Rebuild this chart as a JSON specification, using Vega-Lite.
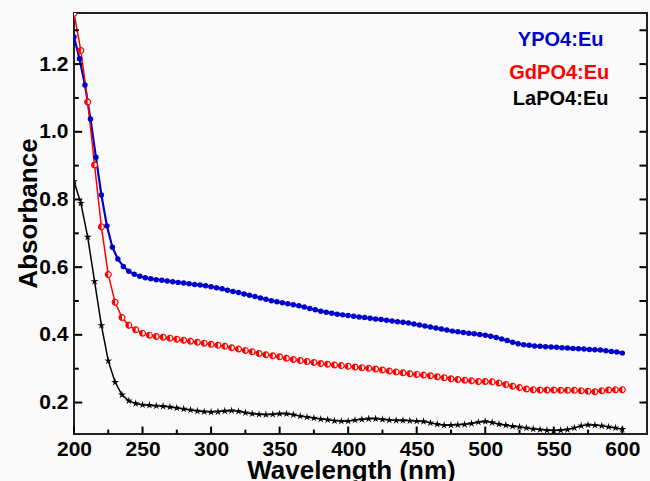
{
"$schema": "https://vega.github.io/schema/vega-lite/v6.json",
"width": 573, "height": 421,
"autosize": {"type": "none"},
"padding": {"left": 74, "top": 13, "right": 3, "bottom": 47},
"background": "#fafafa",
"config": {"view": {"stroke": "#222222", "strokeWidth": 2}, "font": "Liberation Sans"},
"datasets": {
"xmaj": [{"v":200},{"v":250},{"v":300},{"v":350},{"v":400},{"v":450},{"v":500},{"v":550},{"v":600}],
"xmin": [{"v":225},{"v":275},{"v":325},{"v":375},{"v":425},{"v":475},{"v":525},{"v":575}],
"ymaj": [{"v":0.2},{"v":0.4},{"v":0.6},{"v":0.8},{"v":1.0},{"v":1.2}],
"ymin": [{"v":0.3},{"v":0.5},{"v":0.7},{"v":0.9},{"v":1.1},{"v":1.3}],
"yall": [{"v":0.2},{"v":0.3},{"v":0.4},{"v":0.5},{"v":0.6},{"v":0.7},{"v":0.8},{"v":0.9},{"v":1.0},{"v":1.1},{"v":1.2},{"v":1.3}],
"one": [{"n":1}],
"abs": [
{"s":"YPO4:Eu","wl":200,"a":1.280},{"s":"YPO4:Eu","wl":204,"a":1.216},{"s":"YPO4:Eu","wl":208,"a":1.138},{"s":"YPO4:Eu","wl":212,"a":1.038},{"s":"YPO4:Eu","wl":216,"a":0.925},{"s":"YPO4:Eu","wl":220,"a":0.813},{"s":"YPO4:Eu","wl":224,"a":0.722},{"s":"YPO4:Eu","wl":228,"a":0.659},{"s":"YPO4:Eu","wl":232,"a":0.624},{"s":"YPO4:Eu","wl":236,"a":0.602},{"s":"YPO4:Eu","wl":240,"a":0.588},{"s":"YPO4:Eu","wl":244,"a":0.579},{"s":"YPO4:Eu","wl":248,"a":0.573},{"s":"YPO4:Eu","wl":252,"a":0.569},{"s":"YPO4:Eu","wl":256,"a":0.566},{"s":"YPO4:Eu","wl":260,"a":0.563},{"s":"YPO4:Eu","wl":264,"a":0.561},{"s":"YPO4:Eu","wl":268,"a":0.559},{"s":"YPO4:Eu","wl":272,"a":0.557},{"s":"YPO4:Eu","wl":276,"a":0.555},{"s":"YPO4:Eu","wl":280,"a":0.553},{"s":"YPO4:Eu","wl":284,"a":0.551},{"s":"YPO4:Eu","wl":288,"a":0.549},{"s":"YPO4:Eu","wl":292,"a":0.547},{"s":"YPO4:Eu","wl":296,"a":0.545},{"s":"YPO4:Eu","wl":300,"a":0.542},{"s":"YPO4:Eu","wl":304,"a":0.539},{"s":"YPO4:Eu","wl":308,"a":0.536},{"s":"YPO4:Eu","wl":312,"a":0.532},{"s":"YPO4:Eu","wl":316,"a":0.528},{"s":"YPO4:Eu","wl":320,"a":0.525},{"s":"YPO4:Eu","wl":324,"a":0.521},{"s":"YPO4:Eu","wl":328,"a":0.517},{"s":"YPO4:Eu","wl":332,"a":0.513},{"s":"YPO4:Eu","wl":336,"a":0.509},{"s":"YPO4:Eu","wl":340,"a":0.505},{"s":"YPO4:Eu","wl":344,"a":0.501},{"s":"YPO4:Eu","wl":348,"a":0.498},{"s":"YPO4:Eu","wl":352,"a":0.495},{"s":"YPO4:Eu","wl":356,"a":0.492},{"s":"YPO4:Eu","wl":360,"a":0.489},{"s":"YPO4:Eu","wl":364,"a":0.486},{"s":"YPO4:Eu","wl":368,"a":0.482},{"s":"YPO4:Eu","wl":372,"a":0.478},{"s":"YPO4:Eu","wl":376,"a":0.474},{"s":"YPO4:Eu","wl":380,"a":0.470},{"s":"YPO4:Eu","wl":384,"a":0.467},{"s":"YPO4:Eu","wl":388,"a":0.464},{"s":"YPO4:Eu","wl":392,"a":0.461},{"s":"YPO4:Eu","wl":396,"a":0.459},{"s":"YPO4:Eu","wl":400,"a":0.457},{"s":"YPO4:Eu","wl":404,"a":0.455},{"s":"YPO4:Eu","wl":408,"a":0.453},{"s":"YPO4:Eu","wl":412,"a":0.451},{"s":"YPO4:Eu","wl":416,"a":0.449},{"s":"YPO4:Eu","wl":420,"a":0.447},{"s":"YPO4:Eu","wl":424,"a":0.445},{"s":"YPO4:Eu","wl":428,"a":0.443},{"s":"YPO4:Eu","wl":432,"a":0.441},{"s":"YPO4:Eu","wl":436,"a":0.439},{"s":"YPO4:Eu","wl":440,"a":0.437},{"s":"YPO4:Eu","wl":444,"a":0.435},{"s":"YPO4:Eu","wl":448,"a":0.432},{"s":"YPO4:Eu","wl":452,"a":0.429},{"s":"YPO4:Eu","wl":456,"a":0.426},{"s":"YPO4:Eu","wl":460,"a":0.423},{"s":"YPO4:Eu","wl":464,"a":0.420},{"s":"YPO4:Eu","wl":468,"a":0.417},{"s":"YPO4:Eu","wl":472,"a":0.414},{"s":"YPO4:Eu","wl":476,"a":0.411},{"s":"YPO4:Eu","wl":480,"a":0.409},{"s":"YPO4:Eu","wl":484,"a":0.407},{"s":"YPO4:Eu","wl":488,"a":0.405},{"s":"YPO4:Eu","wl":492,"a":0.403},{"s":"YPO4:Eu","wl":496,"a":0.401},{"s":"YPO4:Eu","wl":500,"a":0.399},{"s":"YPO4:Eu","wl":504,"a":0.396},{"s":"YPO4:Eu","wl":508,"a":0.392},{"s":"YPO4:Eu","wl":512,"a":0.388},{"s":"YPO4:Eu","wl":516,"a":0.383},{"s":"YPO4:Eu","wl":520,"a":0.378},{"s":"YPO4:Eu","wl":524,"a":0.374},{"s":"YPO4:Eu","wl":528,"a":0.371},{"s":"YPO4:Eu","wl":532,"a":0.369},{"s":"YPO4:Eu","wl":536,"a":0.367},{"s":"YPO4:Eu","wl":540,"a":0.366},{"s":"YPO4:Eu","wl":544,"a":0.365},{"s":"YPO4:Eu","wl":548,"a":0.364},{"s":"YPO4:Eu","wl":552,"a":0.363},{"s":"YPO4:Eu","wl":556,"a":0.362},{"s":"YPO4:Eu","wl":560,"a":0.361},{"s":"YPO4:Eu","wl":564,"a":0.360},{"s":"YPO4:Eu","wl":568,"a":0.359},{"s":"YPO4:Eu","wl":572,"a":0.358},{"s":"YPO4:Eu","wl":576,"a":0.357},{"s":"YPO4:Eu","wl":580,"a":0.356},{"s":"YPO4:Eu","wl":584,"a":0.355},{"s":"YPO4:Eu","wl":588,"a":0.353},{"s":"YPO4:Eu","wl":592,"a":0.351},{"s":"YPO4:Eu","wl":596,"a":0.349},{"s":"YPO4:Eu","wl":600,"a":0.346},
{"s":"GdPO4:Eu","wl":200,"a":1.35},{"s":"GdPO4:Eu","wl":205,"a":1.24},{"s":"GdPO4:Eu","wl":210,"a":1.088},{"s":"GdPO4:Eu","wl":215,"a":0.902},{"s":"GdPO4:Eu","wl":220,"a":0.719},{"s":"GdPO4:Eu","wl":225,"a":0.578},{"s":"GdPO4:Eu","wl":230,"a":0.496},{"s":"GdPO4:Eu","wl":235,"a":0.451},{"s":"GdPO4:Eu","wl":240,"a":0.428},{"s":"GdPO4:Eu","wl":245,"a":0.415},{"s":"GdPO4:Eu","wl":250,"a":0.405},{"s":"GdPO4:Eu","wl":255,"a":0.399},{"s":"GdPO4:Eu","wl":260,"a":0.395},{"s":"GdPO4:Eu","wl":265,"a":0.393},{"s":"GdPO4:Eu","wl":270,"a":0.390},{"s":"GdPO4:Eu","wl":275,"a":0.387},{"s":"GdPO4:Eu","wl":280,"a":0.384},{"s":"GdPO4:Eu","wl":285,"a":0.381},{"s":"GdPO4:Eu","wl":290,"a":0.378},{"s":"GdPO4:Eu","wl":295,"a":0.375},{"s":"GdPO4:Eu","wl":300,"a":0.372},{"s":"GdPO4:Eu","wl":305,"a":0.369},{"s":"GdPO4:Eu","wl":310,"a":0.366},{"s":"GdPO4:Eu","wl":315,"a":0.362},{"s":"GdPO4:Eu","wl":320,"a":0.358},{"s":"GdPO4:Eu","wl":325,"a":0.354},{"s":"GdPO4:Eu","wl":330,"a":0.350},{"s":"GdPO4:Eu","wl":335,"a":0.345},{"s":"GdPO4:Eu","wl":340,"a":0.341},{"s":"GdPO4:Eu","wl":345,"a":0.338},{"s":"GdPO4:Eu","wl":350,"a":0.335},{"s":"GdPO4:Eu","wl":355,"a":0.331},{"s":"GdPO4:Eu","wl":360,"a":0.327},{"s":"GdPO4:Eu","wl":365,"a":0.324},{"s":"GdPO4:Eu","wl":370,"a":0.321},{"s":"GdPO4:Eu","wl":375,"a":0.318},{"s":"GdPO4:Eu","wl":380,"a":0.315},{"s":"GdPO4:Eu","wl":385,"a":0.313},{"s":"GdPO4:Eu","wl":390,"a":0.311},{"s":"GdPO4:Eu","wl":395,"a":0.309},{"s":"GdPO4:Eu","wl":400,"a":0.307},{"s":"GdPO4:Eu","wl":405,"a":0.305},{"s":"GdPO4:Eu","wl":410,"a":0.303},{"s":"GdPO4:Eu","wl":415,"a":0.301},{"s":"GdPO4:Eu","wl":420,"a":0.299},{"s":"GdPO4:Eu","wl":425,"a":0.296},{"s":"GdPO4:Eu","wl":430,"a":0.293},{"s":"GdPO4:Eu","wl":435,"a":0.290},{"s":"GdPO4:Eu","wl":440,"a":0.288},{"s":"GdPO4:Eu","wl":445,"a":0.285},{"s":"GdPO4:Eu","wl":450,"a":0.283},{"s":"GdPO4:Eu","wl":455,"a":0.281},{"s":"GdPO4:Eu","wl":460,"a":0.279},{"s":"GdPO4:Eu","wl":465,"a":0.276},{"s":"GdPO4:Eu","wl":470,"a":0.273},{"s":"GdPO4:Eu","wl":475,"a":0.270},{"s":"GdPO4:Eu","wl":480,"a":0.268},{"s":"GdPO4:Eu","wl":485,"a":0.266},{"s":"GdPO4:Eu","wl":490,"a":0.264},{"s":"GdPO4:Eu","wl":495,"a":0.262},{"s":"GdPO4:Eu","wl":500,"a":0.262},{"s":"GdPO4:Eu","wl":505,"a":0.261},{"s":"GdPO4:Eu","wl":510,"a":0.258},{"s":"GdPO4:Eu","wl":515,"a":0.253},{"s":"GdPO4:Eu","wl":520,"a":0.248},{"s":"GdPO4:Eu","wl":525,"a":0.244},{"s":"GdPO4:Eu","wl":530,"a":0.240},{"s":"GdPO4:Eu","wl":535,"a":0.238},{"s":"GdPO4:Eu","wl":540,"a":0.237},{"s":"GdPO4:Eu","wl":545,"a":0.237},{"s":"GdPO4:Eu","wl":550,"a":0.237},{"s":"GdPO4:Eu","wl":555,"a":0.236},{"s":"GdPO4:Eu","wl":560,"a":0.236},{"s":"GdPO4:Eu","wl":565,"a":0.236},{"s":"GdPO4:Eu","wl":570,"a":0.235},{"s":"GdPO4:Eu","wl":575,"a":0.233},{"s":"GdPO4:Eu","wl":580,"a":0.232},{"s":"GdPO4:Eu","wl":585,"a":0.235},{"s":"GdPO4:Eu","wl":590,"a":0.237},{"s":"GdPO4:Eu","wl":595,"a":0.238},{"s":"GdPO4:Eu","wl":600,"a":0.238},
{"s":"LaPO4:Eu","wl":200,"a":0.853},{"s":"LaPO4:Eu","wl":205,"a":0.789},{"s":"LaPO4:Eu","wl":210,"a":0.689},{"s":"LaPO4:Eu","wl":215,"a":0.558},{"s":"LaPO4:Eu","wl":220,"a":0.428},{"s":"LaPO4:Eu","wl":225,"a":0.323},{"s":"LaPO4:Eu","wl":230,"a":0.260},{"s":"LaPO4:Eu","wl":235,"a":0.223},{"s":"LaPO4:Eu","wl":240,"a":0.205},{"s":"LaPO4:Eu","wl":245,"a":0.197},{"s":"LaPO4:Eu","wl":250,"a":0.193},{"s":"LaPO4:Eu","wl":255,"a":0.192},{"s":"LaPO4:Eu","wl":260,"a":0.190},{"s":"LaPO4:Eu","wl":265,"a":0.189},{"s":"LaPO4:Eu","wl":270,"a":0.187},{"s":"LaPO4:Eu","wl":275,"a":0.184},{"s":"LaPO4:Eu","wl":280,"a":0.181},{"s":"LaPO4:Eu","wl":285,"a":0.178},{"s":"LaPO4:Eu","wl":290,"a":0.175},{"s":"LaPO4:Eu","wl":295,"a":0.173},{"s":"LaPO4:Eu","wl":300,"a":0.172},{"s":"LaPO4:Eu","wl":305,"a":0.173},{"s":"LaPO4:Eu","wl":310,"a":0.175},{"s":"LaPO4:Eu","wl":315,"a":0.176},{"s":"LaPO4:Eu","wl":320,"a":0.174},{"s":"LaPO4:Eu","wl":325,"a":0.170},{"s":"LaPO4:Eu","wl":330,"a":0.167},{"s":"LaPO4:Eu","wl":335,"a":0.165},{"s":"LaPO4:Eu","wl":340,"a":0.164},{"s":"LaPO4:Eu","wl":345,"a":0.165},{"s":"LaPO4:Eu","wl":350,"a":0.167},{"s":"LaPO4:Eu","wl":355,"a":0.167},{"s":"LaPO4:Eu","wl":360,"a":0.164},{"s":"LaPO4:Eu","wl":365,"a":0.160},{"s":"LaPO4:Eu","wl":370,"a":0.157},{"s":"LaPO4:Eu","wl":375,"a":0.154},{"s":"LaPO4:Eu","wl":380,"a":0.151},{"s":"LaPO4:Eu","wl":385,"a":0.149},{"s":"LaPO4:Eu","wl":390,"a":0.146},{"s":"LaPO4:Eu","wl":395,"a":0.145},{"s":"LaPO4:Eu","wl":400,"a":0.145},{"s":"LaPO4:Eu","wl":405,"a":0.148},{"s":"LaPO4:Eu","wl":410,"a":0.150},{"s":"LaPO4:Eu","wl":415,"a":0.152},{"s":"LaPO4:Eu","wl":420,"a":0.152},{"s":"LaPO4:Eu","wl":425,"a":0.150},{"s":"LaPO4:Eu","wl":430,"a":0.148},{"s":"LaPO4:Eu","wl":435,"a":0.147},{"s":"LaPO4:Eu","wl":440,"a":0.147},{"s":"LaPO4:Eu","wl":445,"a":0.146},{"s":"LaPO4:Eu","wl":450,"a":0.145},{"s":"LaPO4:Eu","wl":455,"a":0.144},{"s":"LaPO4:Eu","wl":460,"a":0.140},{"s":"LaPO4:Eu","wl":465,"a":0.136},{"s":"LaPO4:Eu","wl":470,"a":0.133},{"s":"LaPO4:Eu","wl":475,"a":0.133},{"s":"LaPO4:Eu","wl":480,"a":0.134},{"s":"LaPO4:Eu","wl":485,"a":0.135},{"s":"LaPO4:Eu","wl":490,"a":0.138},{"s":"LaPO4:Eu","wl":495,"a":0.142},{"s":"LaPO4:Eu","wl":500,"a":0.144},{"s":"LaPO4:Eu","wl":505,"a":0.141},{"s":"LaPO4:Eu","wl":510,"a":0.136},{"s":"LaPO4:Eu","wl":515,"a":0.133},{"s":"LaPO4:Eu","wl":520,"a":0.130},{"s":"LaPO4:Eu","wl":525,"a":0.128},{"s":"LaPO4:Eu","wl":530,"a":0.125},{"s":"LaPO4:Eu","wl":535,"a":0.122},{"s":"LaPO4:Eu","wl":540,"a":0.120},{"s":"LaPO4:Eu","wl":545,"a":0.118},{"s":"LaPO4:Eu","wl":550,"a":0.117},{"s":"LaPO4:Eu","wl":555,"a":0.118},{"s":"LaPO4:Eu","wl":560,"a":0.120},{"s":"LaPO4:Eu","wl":565,"a":0.125},{"s":"LaPO4:Eu","wl":570,"a":0.131},{"s":"LaPO4:Eu","wl":575,"a":0.134},{"s":"LaPO4:Eu","wl":580,"a":0.133},{"s":"LaPO4:Eu","wl":585,"a":0.131},{"s":"LaPO4:Eu","wl":590,"a":0.128},{"s":"LaPO4:Eu","wl":595,"a":0.125},{"s":"LaPO4:Eu","wl":600,"a":0.121}
]},
"layer": [
{"data": {"name": "abs"},
 "mark": {"type": "line", "clip": true},
 "encoding": {
  "x": {"field": "wl", "type": "quantitative", "scale": {"domain": [200, 618], "nice": false, "zero": false},
   "axis": {"orient": "bottom", "values": [200,250,300,350,400,450,500,550,600], "format": "d",
    "ticks": false, "tickSize": 0, "domain": false, "grid": false,
    "labelFont": "Liberation Sans", "labelFontWeight": "bold", "labelFontSize": 21, "labelColor": "#000", "labelPadding": 4, "labelFlush": false, "labelOverlap": false,
    "title": "Wavelength (nm)", "titleFont": "Liberation Sans", "titleFontSize": 26, "titleFontWeight": "bold", "titleColor": "#000",
    "titleX": 277, "titleY": 44, "titleBaseline": "alphabetic", "titleAlign": "center"}},
  "y": {"field": "a", "type": "quantitative", "scale": {"domain": [0.107, 1.351], "nice": false, "zero": false},
   "axis": {"orient": "left", "values": [0.2,0.4,0.6,0.8,1.0,1.2], "format": ".1f",
    "ticks": false, "tickSize": 0, "domain": false, "grid": false,
    "labelFont": "Liberation Sans", "labelFontWeight": "bold", "labelFontSize": 21, "labelColor": "#000", "labelPadding": 6, "labelFlush": false, "labelOverlap": false,
    "title": "Absorbance", "titleFont": "Liberation Sans", "titleFontSize": 26, "titleFontWeight": "bold", "titleColor": "#000",
    "titleAngle": -90, "titleX": -46, "titleY": 200, "titleBaseline": "middle", "titleAlign": "center"}},
  "color": {"field": "s", "type": "nominal", "scale": {"domain": ["LaPO4:Eu", "GdPO4:Eu", "YPO4:Eu"], "range": ["#000000", "#ff0000", "#0000cc"]}, "legend": null},
  "strokeWidth": {"condition": {"test": "datum.s === 'YPO4:Eu'", "value": 2.2}, "value": 1.5}
 }},
{"data": {"name": "xmaj"},
 "mark": {"type": "rule", "strokeWidth": 2, "color": "#000", "opacity": 1},
 "encoding": {"x": {"field": "v", "type": "quantitative"}, "y": {"datum": 0.1085, "type": "quantitative"}, "y2": {"datum": 0.129}}},
{"data": {"name": "xmin"},
 "mark": {"type": "rule", "strokeWidth": 2, "color": "#000", "opacity": 1},
 "encoding": {"x": {"field": "v", "type": "quantitative"}, "y": {"datum": 0.1085, "type": "quantitative"}, "y2": {"datum": 0.12}}},
{"data": {"name": "ymaj"},
 "mark": {"type": "rule", "strokeWidth": 2, "color": "#000", "opacity": 1},
 "encoding": {"y": {"field": "v", "type": "quantitative"}, "x": {"datum": 200.6, "type": "quantitative"}, "x2": {"datum": 206}}},
{"data": {"name": "ymin"},
 "mark": {"type": "rule", "strokeWidth": 2, "color": "#000", "opacity": 1},
 "encoding": {"y": {"field": "v", "type": "quantitative"}, "x": {"datum": 200.6, "type": "quantitative"}, "x2": {"datum": 203.5}}},
{"data": {"name": "yall"},
 "mark": {"type": "rule", "strokeWidth": 2, "color": "#000", "opacity": 1},
 "encoding": {"y": {"field": "v", "type": "quantitative"}, "x": {"datum": 612.5, "type": "quantitative"}, "x2": {"datum": 617.5}}},
{"data": {"name": "abs"}, "transform": [{"filter": "datum.s === 'LaPO4:Eu'"}],
 "mark": {"type": "point", "shape": "M0,-1L0.2,-0.28L0.95,-0.31L0.33,0.11L0.59,0.81L0,0.35L-0.59,0.81L-0.33,0.11L-0.95,-0.31L-0.2,-0.28Z", "filled": true, "color": "#000000", "size": 70, "opacity": 1, "clip": true},
 "encoding": {"x": {"field": "wl", "type": "quantitative"}, "y": {"field": "a", "type": "quantitative"}}},
{"data": {"name": "abs"}, "transform": [{"filter": "datum.s === 'GdPO4:Eu'"}],
 "mark": {"type": "point", "shape": "circle", "filled": false, "fill": "#ffffff", "fillOpacity": 1, "stroke": "#ff0000", "strokeWidth": 1.2, "size": 34, "opacity": 1, "clip": true},
 "encoding": {"x": {"field": "wl", "type": "quantitative"}, "y": {"field": "a", "type": "quantitative"}}},
{"data": {"name": "abs"}, "transform": [{"filter": "datum.s === 'GdPO4:Eu'"}],
 "mark": {"type": "point", "shape": "M0,-1A1,1,0,0,0,0,1Z", "filled": true, "color": "#ff0000", "size": 34, "opacity": 1, "clip": true},
 "encoding": {"x": {"field": "wl", "type": "quantitative"}, "y": {"field": "a", "type": "quantitative"}}},
{"data": {"name": "abs"}, "transform": [{"filter": "datum.s === 'YPO4:Eu'"}],
 "mark": {"type": "point", "shape": "circle", "filled": true, "color": "#0000cc", "size": 30, "opacity": 1, "clip": true},
 "encoding": {"x": {"field": "wl", "type": "quantitative"}, "y": {"field": "a", "type": "quantitative"}}},
{"data": {"name": "one"},
 "mark": {"type": "text", "text": "YPO4:Eu", "font": "Liberation Sans", "fontWeight": "bold", "fontSize": 20, "color": "#0000cc", "align": "center", "baseline": "middle"},
 "encoding": {"x": {"datum": 555, "type": "quantitative"}, "y": {"datum": 1.271, "type": "quantitative"}}},
{"data": {"name": "one"},
 "mark": {"type": "text", "text": "GdPO4:Eu", "font": "Liberation Sans", "fontWeight": "bold", "fontSize": 20, "color": "#ff0000", "align": "center", "baseline": "middle"},
 "encoding": {"x": {"datum": 554, "type": "quantitative"}, "y": {"datum": 1.175, "type": "quantitative"}}},
{"data": {"name": "one"},
 "mark": {"type": "text", "text": "LaPO4:Eu", "font": "Liberation Sans", "fontWeight": "bold", "fontSize": 20, "color": "#000000", "align": "center", "baseline": "middle"},
 "encoding": {"x": {"datum": 555, "type": "quantitative"}, "y": {"datum": 1.097, "type": "quantitative"}}}
]
}
